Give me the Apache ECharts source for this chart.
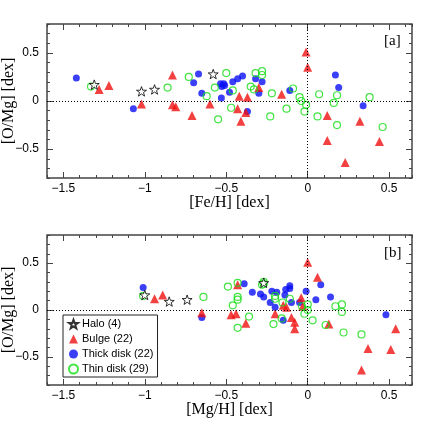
<!DOCTYPE html>
<html>
<head>
<meta charset="utf-8">
<script src="https://cdn.jsdelivr.net/npm/echarts@6/dist/echarts.min.js"></script>
<style>
  html, body { margin: 0; padding: 0; background: #fff; }
  #chart { width: 436px; height: 436px; }
</style>
</head>
<body>
<div id="chart"></div>
<script>
// panel [a]: [Fe/H] vs [O/Mg]
const haloFeH = [-1.31, -1.02, -0.94, -0.58]
const haloOMgA = [0.17, 0.10, 0.12, 0.28]
const bulgeFeH = [-1.28, -1.22, -1.02, -0.83, -0.83, -0.81, -0.71, -0.60, -0.42, -0.43, -0.41, -0.38, -0.37, -0.30, -0.16, -0.01, 0.00, 0.12, 0.12, 0.23, 0.32, 0.44]
const bulgeOMgA = [0.12, 0.16, -0.03, 0.27, -0.04, -0.06, -0.15, -0.03, 0.05, -0.08, -0.21, -0.12, 0.04, 0.14, 0.07, 0.51, 0.35, -0.15, -0.41, -0.64, -0.21, -0.42]
const thickFeH = [-1.42, -1.07, -0.70, -0.67, -0.65, -0.535, -0.515, -0.527, -0.51, -0.53, -0.48, -0.46, -0.43, -0.40, -0.37, -0.32, -0.30, -0.28, -0.11, 0.17, 0.19, 0.34]
const thickOMgA = [0.24, -0.08, 0.19, 0.28, 0.08, 0.18, 0.18, 0.15, 0.16, 0.03, 0.09, 0.20, 0.23, 0.26, -0.11, 0.23, 0.08, 0.20, 0.11, 0.27, 0.14, -0.05]
const thinFeH = [-1.33, -0.86, -0.73, -0.62, -0.57, -0.55, -0.50, -0.46, -0.47, -0.35, -0.33, -0.32, -0.28, -0.28, -0.22, -0.23, -0.13, -0.09, -0.05, -0.04, -0.01, -0.02, 0.06, 0.07, 0.16, 0.18, 0.18, 0.38, 0.46]
const thinOMgA = [0.15, 0.14, 0.25, 0.05, 0.14, -0.19, 0.29, 0.11, -0.07, 0.15, 0.12, 0.29, 0.31, 0.27, 0.08, -0.16, -0.08, 0.13, 0.04, 0.00, -0.04, -0.11, -0.16, 0.07, -0.02, 0.06, -0.25, 0.04, -0.27]

// panel [b]: [Mg/H] vs [O/Mg]
const haloMgH = [-1.00, -0.85, -0.74, -0.27]
const haloOMgB = [0.16, 0.09, 0.11, 0.29]
const bulgeMgH = [-0.94, -0.89, -0.65, -0.47, -0.44, -0.43, -0.38, -0.20, -0.15, -0.13, -0.10, -0.08, -0.08, -0.04, -0.03, 0.00, 0.06, 0.13, 0.33, 0.37, 0.51, 0.54]
const bulgeOMgB = [0.12, 0.16, -0.03, -0.05, -0.04, 0.27, -0.14, -0.04, 0.05, 0.03, -0.08, -0.13, -0.20, 0.13, 0.04, 0.51, 0.35, -0.15, -0.64, -0.41, -0.42, -0.20]
const thickMgH = [-1.01, -0.65, -0.39, -0.34, -0.29, -0.27, -0.23, -0.22, -0.19, -0.20, -0.15, -0.14, -0.135, -0.11, -0.11, -0.10, -0.05, -0.01, 0.05, 0.08, 0.14, 0.48]
const thickOMgB = [0.24, -0.08, 0.28, 0.19, 0.17, 0.14, 0.08, 0.20, 0.19, 0.03, -0.11, 0.16, 0.22, 0.26, 0.23, 0.08, 0.08, 0.20, 0.11, 0.27, 0.14, -0.05]
const thinMgH = [-1.01, -0.64, -0.49, -0.43, -0.43, -0.43, -0.46, -0.36, -0.43, -0.28, -0.27, -0.27, -0.20, -0.20, -0.21, -0.16, -0.155, -0.11, -0.035, -0.02, 0.00, 0.00, 0.03, 0.11, 0.17, 0.21, 0.21, 0.22, 0.33]
const thinOMgB = [0.15, 0.14, 0.25, 0.29, 0.14, 0.11, 0.05, -0.07, -0.19, 0.27, 0.30, 0.28, 0.15, 0.12, -0.15, -0.09, 0.08, 0.12, 0.04, -0.04, 0.06, 0.00, -0.11, -0.16, 0.04, 0.06, -0.02, -0.24, -0.26]

// axes
const xRange = [-1.6, 0.64]
const yRange = [-0.8, 0.8]
const xMajorTicks = [-1.5, -1, -0.5, 0, 0.5]
const yMajorTicks = [-0.5, 0, 0.5]
const minorStep = 0.1

const frameColor = '#444'
const sansFont = 'Liberation Sans'
const serifFont = 'Liberation Serif'

// minus sign like the original
const fmt = v => (v < 0 ? '\u2212' + String(-v) : String(v))

const zip = (xs, ys) => xs.map((x, i) => [x, ys[i]])

const starPath = 'path://M0,-10 L2.35,-3.24 L9.51,-3.09 L3.8,1.24 L5.88,8.09 L0,4 L-5.88,8.09 L-3.8,1.24 L-9.51,-3.09 L-2.35,-3.24 Z'

function makeAxes(dim, gridIndex, name) {
  const range = dim === 'x' ? xRange : yRange
  const majors = dim === 'x' ? xMajorTicks : yMajorTicks
  const sides = dim === 'x' ? ['bottom', 'top'] : ['left', 'right']
  const base = {
    type: 'value',
    gridIndex: gridIndex,
    min: range[0],
    max: range[1],
    axisLine: { show: false, onZero: false },
    splitLine: { show: false }
  }
  const axes = []
  sides.forEach((pos, k) => {
    // major ticks (labels only on bottom / left)
    axes.push(Object.assign({}, base, {
      position: pos,
      name: k === 0 ? name : '',
      nameLocation: 'middle',
      nameMoveOverlap: false,
      nameGap: dim === 'x' ? 17 : 30,
      nameTextStyle: { fontFamily: serifFont, fontSize: 16, color: '#000' },
      axisTick: {
        show: true,
        inside: true,
        length: 6,
        customValues: majors,
        lineStyle: { color: frameColor, width: 1 }
      },
      axisLabel: {
        show: k === 0,
        customValues: majors,
        formatter: fmt,
        margin: dim === 'x' ? 5 : 8,
        fontFamily: sansFont,
        fontSize: 12,
        color: '#000'
      }
    }))
    // minor ticks
    axes.push(Object.assign({}, base, {
      position: pos,
      interval: minorStep,
      axisTick: {
        show: true,
        inside: true,
        length: 3,
        lineStyle: { color: frameColor, width: 1 }
      },
      axisLabel: { show: false }
    }))
  })
  return axes
}

function panelSeries(xi, yi, halo, bulge, thick, thin) {
  return [
    {
      name: 'Thick disk (22)',
      type: 'scatter',
      xAxisIndex: xi, yAxisIndex: yi,
      symbol: 'circle',
      symbolSize: 7,
      itemStyle: { color: '#0a10f5' },
      data: thick,
      markLine: {
        silent: true,
        symbol: ['none', 'none'],
        label: { show: false },
        lineStyle: { type: [1, 2], color: '#000', width: 1 },
        data: [{ xAxis: 0 }, { yAxis: 0 }]
      }
    },
    {
      name: 'Bulge (22)',
      type: 'scatter',
      xAxisIndex: xi, yAxisIndex: yi,
      symbol: 'triangle',
      symbolSize: 9,
      itemStyle: { color: '#f01010' },
      data: bulge
    },
    {
      name: 'Thin disk (29)',
      type: 'scatter',
      xAxisIndex: xi, yAxisIndex: yi,
      symbol: 'circle',
      symbolSize: 7,
      itemStyle: { color: 'rgba(0,0,0,0)', borderColor: '#11dd11', borderWidth: 1.2 },
      data: thin
    },
    {
      name: 'Halo (4)',
      type: 'scatter',
      xAxisIndex: xi, yAxisIndex: yi,
      symbol: starPath,
      symbolKeepAspect: true,
      symbolSize: 10,
      itemStyle: { color: '#fff', borderColor: '#000', borderWidth: 1 },
      data: halo
    }
  ]
}

const chart = echarts.init(document.getElementById('chart'))

chart.setOption({
  animation: false,
  grid: [
    { left: 47, top: 24, width: 365, height: 154, show: true, borderColor: frameColor, borderWidth: 1.5, containLabel: false, outerBoundsMode: 'none' },
    { left: 47, top: 235, width: 365, height: 150, show: true, borderColor: frameColor, borderWidth: 1.5, containLabel: false, outerBoundsMode: 'none' }
  ],
  xAxis: [].concat(
    makeAxes('x', 0, '[Fe/H] [dex]'),
    makeAxes('x', 1, '[Mg/H] [dex]')
  ),
  yAxis: [].concat(
    makeAxes('y', 0, '[O/Mg] [dex]'),
    makeAxes('y', 1, '[O/Mg] [dex]')
  ),
  legend: {
    orient: 'vertical',
    left: 63,
    top: 315,
    padding: [3, 4, 2, 5],
    itemGap: 3,
    itemWidth: 9,
    itemHeight: 9,
    borderColor: '#222',
    borderWidth: 1,
    selectedMode: false,
    textStyle: { fontFamily: sansFont, fontSize: 11, color: '#000', lineHeight: 12, padding: [0, 0, 0, -1] },
    data: ['Halo (4)', 'Bulge (22)', 'Thick disk (22)', 'Thin disk (29)']
  },
  graphic: [
    { type: 'text', left: 384, top: 34, style: { text: '[a]', font: '15px "Liberation Serif"', fill: '#000' } },
    { type: 'text', left: 384, top: 246, style: { text: '[b]', font: '15px "Liberation Serif"', fill: '#000' } }
  ],
  series: [].concat(
    panelSeries(0, 0, zip(haloFeH, haloOMgA), zip(bulgeFeH, bulgeOMgA), zip(thickFeH, thickOMgA), zip(thinFeH, thinOMgA)),
    panelSeries(4, 4, zip(haloMgH, haloOMgB), zip(bulgeMgH, bulgeOMgB), zip(thickMgH, thickOMgB), zip(thinMgH, thinOMgB))
  )
})
</script>
</body>
</html>
